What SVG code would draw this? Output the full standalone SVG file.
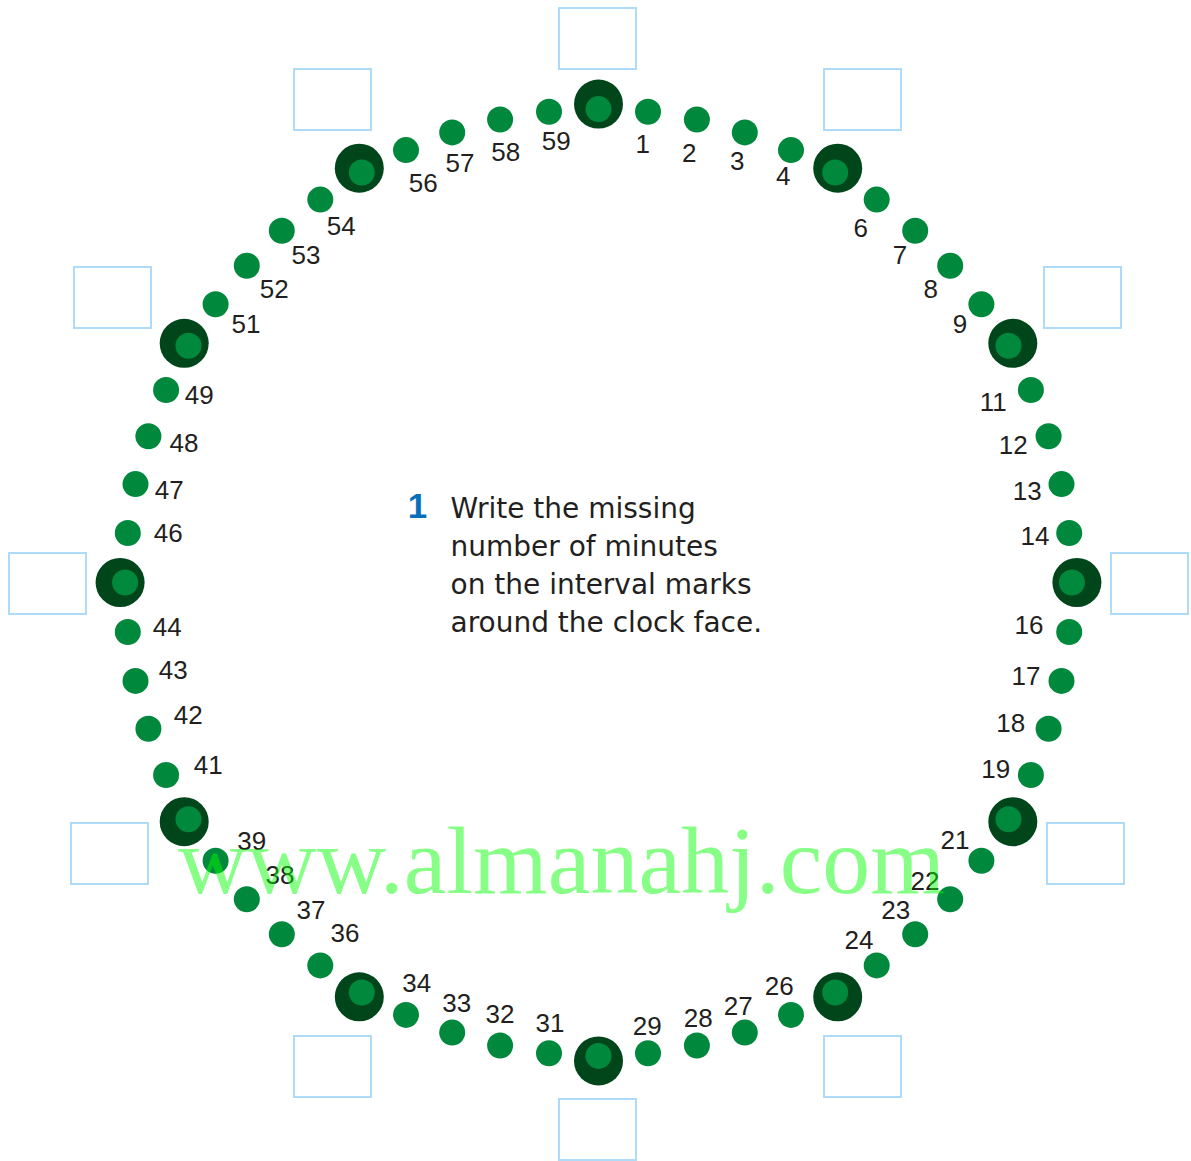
<svg xmlns="http://www.w3.org/2000/svg" width="1191" height="1161" viewBox="0 0 1191 1161">
<style>
.dot{fill:#00893d}
.ring{fill:#00461a}
.box{fill:none;stroke:#aedcf8;stroke-width:2}
.lbl{font-family:"Liberation Sans",Arial,sans-serif;font-size:26px;fill:#231f20;text-anchor:middle}
.txt{font-family:"DejaVu Sans",sans-serif;font-size:28px;fill:#231f20}
</style>
<rect width="1191" height="1161" fill="#ffffff"/>
<g id="boxes">
<g id="box-0"><rect class="box" x="559" y="8" width="77" height="61"/></g>
<g id="box-5"><rect class="box" x="824" y="69" width="77" height="61"/></g>
<g id="box-10"><rect class="box" x="1044" y="267" width="77" height="61"/></g>
<g id="box-15"><rect class="box" x="1111" y="553" width="77" height="61"/></g>
<g id="box-20"><rect class="box" x="1047" y="823" width="77" height="61"/></g>
<g id="box-25"><rect class="box" x="824" y="1036" width="77" height="61"/></g>
<g id="box-30"><rect class="box" x="559" y="1099" width="77" height="61"/></g>
<g id="box-35"><rect class="box" x="294" y="1036" width="77" height="61"/></g>
<g id="box-40"><rect class="box" x="71" y="823" width="77" height="61"/></g>
<g id="box-45"><rect class="box" x="9" y="553" width="77" height="61"/></g>
<g id="box-50"><rect class="box" x="74" y="267" width="77" height="61"/></g>
<g id="box-55"><rect class="box" x="294" y="69" width="77" height="61"/></g>
</g>
<g id="hour-marks">
<g id="mark-0"><circle class="ring" cx="598.5" cy="104.1" r="24.5"/><circle class="dot" cx="598.5" cy="109.1" r="13"/></g>
<g id="mark-5"><circle class="ring" cx="837.7" cy="168.2" r="24.5"/><circle class="dot" cx="835.2" cy="172.5" r="13"/></g>
<g id="mark-10"><circle class="ring" cx="1012.8" cy="343.3" r="24.5"/><circle class="dot" cx="1008.5" cy="345.8" r="13"/></g>
<g id="mark-15"><circle class="ring" cx="1076.9" cy="582.5" r="24.5"/><circle class="dot" cx="1071.9" cy="582.5" r="13"/></g>
<g id="mark-20"><circle class="ring" cx="1012.8" cy="821.7" r="24.5"/><circle class="dot" cx="1008.5" cy="819.2" r="13"/></g>
<g id="mark-25"><circle class="ring" cx="837.7" cy="996.8" r="24.5"/><circle class="dot" cx="835.2" cy="992.5" r="13"/></g>
<g id="mark-30"><circle class="ring" cx="598.5" cy="1060.9" r="24.5"/><circle class="dot" cx="598.5" cy="1055.9" r="13"/></g>
<g id="mark-35"><circle class="ring" cx="359.3" cy="996.8" r="24.5"/><circle class="dot" cx="361.8" cy="992.5" r="13"/></g>
<g id="mark-40"><circle class="ring" cx="184.2" cy="821.7" r="24.5"/><circle class="dot" cx="188.5" cy="819.2" r="13"/></g>
<g id="mark-45"><circle class="ring" cx="120.1" cy="582.5" r="24.5"/><circle class="dot" cx="125.1" cy="582.5" r="13"/></g>
<g id="mark-50"><circle class="ring" cx="184.2" cy="343.3" r="24.5"/><circle class="dot" cx="188.5" cy="345.8" r="13"/></g>
<g id="mark-55"><circle class="ring" cx="359.3" cy="168.2" r="24.5"/><circle class="dot" cx="361.8" cy="172.5" r="13"/></g>
</g>
<g id="minute-marks">
<g id="m1"><circle class="dot" cx="648.0" cy="111.8" r="13"/><text class="lbl" x="642.7" y="152.6">1</text></g>
<g id="m2"><circle class="dot" cx="696.9" cy="119.5" r="13"/><text class="lbl" x="689.3" y="162">2</text></g>
<g id="m3"><circle class="dot" cx="744.8" cy="132.4" r="13"/><text class="lbl" x="737.3" y="169.6">3</text></g>
<g id="m4"><circle class="dot" cx="791.0" cy="150.1" r="13"/><text class="lbl" x="783.3" y="185.3">4</text></g>
<g id="m6"><circle class="dot" cx="876.7" cy="199.6" r="13"/><text class="lbl" x="860.7" y="236.6">6</text></g>
<g id="m7"><circle class="dot" cx="915.2" cy="230.8" r="13"/><text class="lbl" x="900" y="264.3">7</text></g>
<g id="m8"><circle class="dot" cx="950.2" cy="265.8" r="13"/><text class="lbl" x="930.7" y="297.6">8</text></g>
<g id="m9"><circle class="dot" cx="981.4" cy="304.3" r="13"/><text class="lbl" x="960" y="333.3">9</text></g>
<g id="m11"><circle class="dot" cx="1030.9" cy="390.0" r="13"/><text class="lbl" x="993.3" y="411">11</text></g>
<g id="m12"><circle class="dot" cx="1048.6" cy="436.2" r="13"/><text class="lbl" x="1013.3" y="454.3">12</text></g>
<g id="m13"><circle class="dot" cx="1061.5" cy="484.1" r="13"/><text class="lbl" x="1027.3" y="500">13</text></g>
<g id="m14"><circle class="dot" cx="1069.2" cy="533.0" r="13"/><text class="lbl" x="1035" y="545.3">14</text></g>
<g id="m16"><circle class="dot" cx="1069.2" cy="632.0" r="13"/><text class="lbl" x="1029" y="634.3">16</text></g>
<g id="m17"><circle class="dot" cx="1061.5" cy="680.9" r="13"/><text class="lbl" x="1026" y="685.3">17</text></g>
<g id="m18"><circle class="dot" cx="1048.6" cy="728.8" r="13"/><text class="lbl" x="1010.7" y="731.6">18</text></g>
<g id="m19"><circle class="dot" cx="1030.9" cy="775.0" r="13"/><text class="lbl" x="995.7" y="777.6">19</text></g>
<g id="m21"><circle class="dot" cx="981.4" cy="860.7" r="13"/><text class="lbl" x="955" y="848.6">21</text></g>
<g id="m22"><circle class="dot" cx="950.2" cy="899.2" r="13"/><text class="lbl" x="925" y="890.3">22</text></g>
<g id="m23"><circle class="dot" cx="915.2" cy="934.2" r="13"/><text class="lbl" x="895.7" y="919.3">23</text></g>
<g id="m24"><circle class="dot" cx="876.7" cy="965.4" r="13"/><text class="lbl" x="859" y="948.6">24</text></g>
<g id="m26"><circle class="dot" cx="791.0" cy="1014.9" r="13"/><text class="lbl" x="779.3" y="995.3">26</text></g>
<g id="m27"><circle class="dot" cx="744.8" cy="1032.6" r="13"/><text class="lbl" x="738.3" y="1015.3">27</text></g>
<g id="m28"><circle class="dot" cx="696.9" cy="1045.5" r="13"/><text class="lbl" x="698.3" y="1026.6">28</text></g>
<g id="m29"><circle class="dot" cx="648.0" cy="1053.2" r="13"/><text class="lbl" x="647.3" y="1034.6">29</text></g>
<g id="m31"><circle class="dot" cx="549.0" cy="1053.2" r="13"/><text class="lbl" x="550" y="1032">31</text></g>
<g id="m32"><circle class="dot" cx="500.1" cy="1045.5" r="13"/><text class="lbl" x="500" y="1022.6">32</text></g>
<g id="m33"><circle class="dot" cx="452.2" cy="1032.6" r="13"/><text class="lbl" x="456.7" y="1011.8">33</text></g>
<g id="m34"><circle class="dot" cx="406.0" cy="1014.9" r="13"/><text class="lbl" x="416.7" y="991.8">34</text></g>
<g id="m36"><circle class="dot" cx="320.3" cy="965.4" r="13"/><text class="lbl" x="345" y="942">36</text></g>
<g id="m37"><circle class="dot" cx="281.8" cy="934.2" r="13"/><text class="lbl" x="311" y="919.3">37</text></g>
<g id="m38"><circle class="dot" cx="246.8" cy="899.2" r="13"/><text class="lbl" x="280" y="884.3">38</text></g>
<g id="m39"><circle class="dot" cx="215.6" cy="860.7" r="13"/><text class="lbl" x="251.7" y="850">39</text></g>
<g id="m41"><circle class="dot" cx="166.1" cy="775.0" r="13"/><text class="lbl" x="208.3" y="774.3">41</text></g>
<g id="m42"><circle class="dot" cx="148.4" cy="728.8" r="13"/><text class="lbl" x="188.3" y="724.3">42</text></g>
<g id="m43"><circle class="dot" cx="135.5" cy="680.9" r="13"/><text class="lbl" x="173.3" y="678.6">43</text></g>
<g id="m44"><circle class="dot" cx="127.8" cy="632.0" r="13"/><text class="lbl" x="167.3" y="636">44</text></g>
<g id="m46"><circle class="dot" cx="127.8" cy="533.0" r="13"/><text class="lbl" x="168.3" y="541.6">46</text></g>
<g id="m47"><circle class="dot" cx="135.5" cy="484.1" r="13"/><text class="lbl" x="169.3" y="498.6">47</text></g>
<g id="m48"><circle class="dot" cx="148.4" cy="436.2" r="13"/><text class="lbl" x="184" y="452">48</text></g>
<g id="m49"><circle class="dot" cx="166.1" cy="390.0" r="13"/><text class="lbl" x="199.3" y="404.3">49</text></g>
<g id="m51"><circle class="dot" cx="215.6" cy="304.3" r="13"/><text class="lbl" x="246" y="333.3">51</text></g>
<g id="m52"><circle class="dot" cx="246.8" cy="265.8" r="13"/><text class="lbl" x="274.3" y="298.3">52</text></g>
<g id="m53"><circle class="dot" cx="281.8" cy="230.8" r="13"/><text class="lbl" x="306" y="264.3">53</text></g>
<g id="m54"><circle class="dot" cx="320.3" cy="199.6" r="13"/><text class="lbl" x="341.3" y="235.3">54</text></g>
<g id="m56"><circle class="dot" cx="406.0" cy="150.1" r="13"/><text class="lbl" x="423.3" y="192">56</text></g>
<g id="m57"><circle class="dot" cx="452.2" cy="132.4" r="13"/><text class="lbl" x="460" y="172">57</text></g>
<g id="m58"><circle class="dot" cx="500.1" cy="119.5" r="13"/><text class="lbl" x="505.7" y="161">58</text></g>
<g id="m59"><circle class="dot" cx="549.0" cy="111.8" r="13"/><text class="lbl" x="556.2" y="149.8">59</text></g>
</g>
<g id="instruction">
<text x="417.5" y="518" font-family="'Liberation Sans',Arial,sans-serif" font-weight="bold" font-size="35" fill="#0a6fba" text-anchor="middle">1</text>
<text class="txt" x="450.5" y="518.3">Write the missing</text>
<text class="txt" x="450.5" y="556">number of minutes</text>
<text class="txt" x="450.5" y="594">on the interval marks</text>
<text class="txt" x="450.5" y="631.7">around the clock face.</text>
</g>
<g id="watermark">
<text x="178" y="893" font-family="'Liberation Serif','Times New Roman',serif" font-size="95" fill="#00ff00" fill-opacity="0.47" textLength="767" lengthAdjust="spacingAndGlyphs">www.almanahj.com</text>
</g>
</svg>
